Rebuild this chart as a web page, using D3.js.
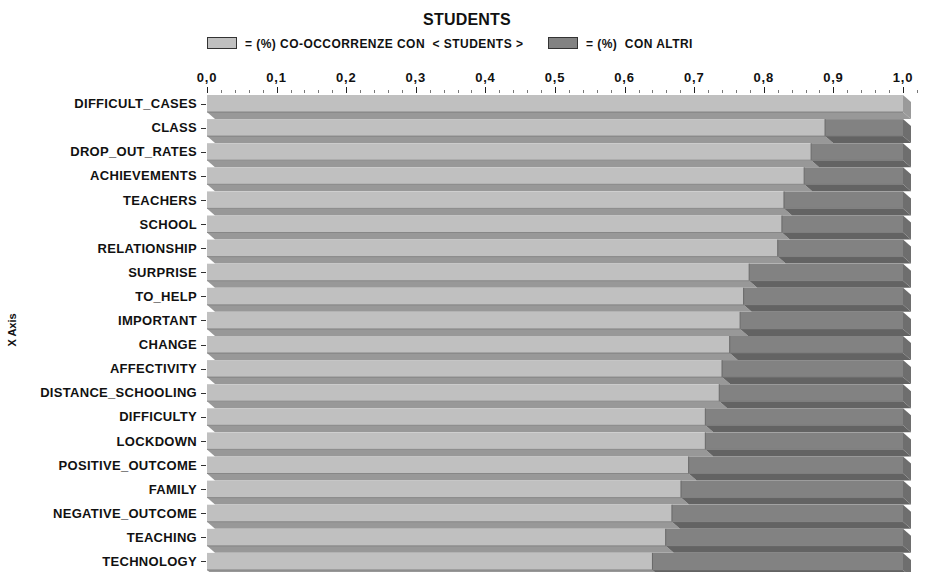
<!DOCTYPE html>
<html>
<head>
<meta charset="utf-8">
<script src="https://cdn.jsdelivr.net/npm/d3@7"></script>
<style>
  html, body { margin: 0; padding: 0; background: #fff; }
  svg { display: block; font-family: "Liberation Sans", Arial, sans-serif; font-weight: bold; }
</style>
</head>
<body>
<svg id="chart" width="930" height="572"></svg>
<script>
const chartTitle = "STUDENTS";
const legendLabels = ["= (%) CO-OCCORRENZE CON  < STUDENTS >", "= (%)  CON ALTRI"];
const yAxisTitle = "X Axis";
const categories = [
  "DIFFICULT_CASES", "CLASS", "DROP_OUT_RATES", "ACHIEVEMENTS", "TEACHERS",
  "SCHOOL", "RELATIONSHIP", "SURPRISE", "TO_HELP", "IMPORTANT",
  "CHANGE", "AFFECTIVITY", "DISTANCE_SCHOOLING", "DIFFICULTY", "LOCKDOWN",
  "POSITIVE_OUTCOME", "FAMILY", "NEGATIVE_OUTCOME", "TEACHING", "TECHNOLOGY"
];
const coOccurrence = [
  1.000, 0.888, 0.868, 0.858, 0.829,
  0.826, 0.820, 0.779, 0.771, 0.766,
  0.751, 0.740, 0.736, 0.716, 0.716,
  0.692, 0.681, 0.668, 0.659, 0.640
];
const otherShare = coOccurrence.map(v => 1 - v);
const tickValues = [0, 0.1, 0.2, 0.3, 0.4, 0.5, 0.6, 0.7, 0.8, 0.9, 1.0];
const tickLabels = ["0,0", "0,1", "0,2", "0,3", "0,4", "0,5", "0,6", "0,7", "0,8", "0,9", "1,0"];

const svg = d3.select("#chart");
const x = d3.scaleLinear().domain([0, 1]).range([207, 903]);
const y = d3.scaleBand().domain(categories).range([95, 577]).padding(0);
const frontH = 17, dx = 8, dy = 7;

const colors = {
  lightFront: "#c0c0c0", lightBottom: "#989898", lightSide: "#9a9a9a",
  darkFront: "#828282", darkBottom: "#636363", darkSide: "#6e6e6e"
};

// Title
svg.append("text").attr("x", 467).attr("y", 25).attr("text-anchor", "middle")
  .attr("font-size", 16).attr("letter-spacing", 0.2).attr("fill", "#111").text(chartTitle);

// Legend
const lg = svg.append("g");
lg.append("rect").attr("x", 207.5).attr("y", 37.5).attr("width", 29).attr("height", 11)
  .attr("fill", colors.lightFront).attr("stroke", "#333").attr("stroke-width", 1);
lg.append("text").attr("x", 245).attr("y", 47.5).attr("font-size", 12).attr("letter-spacing", 0.45)
  .attr("fill", "#111").attr("xml:space", "preserve").text(legendLabels[0]);
lg.append("rect").attr("x", 548.5).attr("y", 37.5).attr("width", 29).attr("height", 11)
  .attr("fill", colors.darkFront).attr("stroke", "#333").attr("stroke-width", 1);
lg.append("text").attr("x", 586).attr("y", 47.5).attr("font-size", 12).attr("letter-spacing", 0.45)
  .attr("fill", "#111").attr("xml:space", "preserve").text(legendLabels[1]);

// Top axis ticks
const ax = svg.append("g");
ax.selectAll("text.tick").data(tickValues).join("text")
  .attr("x", d => x(d)).attr("y", 82).attr("text-anchor", "middle")
  .attr("font-size", 13).attr("letter-spacing", 0.8).attr("fill", "#111")
  .text((d, i) => tickLabels[i]);
ax.selectAll("line.major").data(tickValues).join("line")
  .attr("x1", d => Math.round(x(d)) + 0.5).attr("x2", d => Math.round(x(d)) + 0.5)
  .attr("y1", 87).attr("y2", 93).attr("stroke", "#222").attr("stroke-width", 1);
const minor = d3.range(0, 51).map(i => i * 0.02).filter(v => Math.abs(v * 10 - Math.round(v * 10)) > 1e-6);
minor.push(1.02);
ax.selectAll("line.minor").data(minor).join("line")
  .attr("x1", d => Math.round(x(d)) + 0.5).attr("x2", d => Math.round(x(d)) + 0.5)
  .attr("y1", 90).attr("y2", 93).attr("stroke", "#777").attr("stroke-width", 1);

// Bars (3D)
const rows = svg.append("g");
categories.forEach((cat, i) => {
  const yt = y(cat), yb = yt + frontH;
  const x0 = x(0), xm = x(coOccurrence[i]), x1 = x(coOccurrence[i] + otherShare[i]);
  const g = rows.append("g");
  g.append("polygon")
    .attr("points", [[x0, yb], [xm, yb], [xm + dx, yb + dy], [x0 + dx, yb + dy]].join(" "))
    .attr("fill", colors.lightBottom);
  if (x1 - xm > 0.5) {
    g.append("polygon")
      .attr("points", [[xm, yb], [x1, yb], [x1 + dx, yb + dy], [xm + dx, yb + dy]].join(" "))
      .attr("fill", colors.darkBottom);
  }
  g.append("polygon")
    .attr("points", [[x1, yt], [x1 + dx, yt + dy], [x1 + dx, yb + dy], [x1, yb]].join(" "))
    .attr("fill", x1 - xm > 0.5 ? colors.darkSide : colors.lightSide);
  g.append("rect").attr("x", x0).attr("y", yt).attr("width", xm - x0).attr("height", frontH)
    .attr("fill", colors.lightFront);
  if (x1 - xm > 0.5) {
    g.append("rect").attr("x", xm).attr("y", yt).attr("width", x1 - xm).attr("height", frontH)
      .attr("fill", colors.darkFront);
    g.append("line").attr("x1", xm).attr("x2", xm).attr("y1", yt).attr("y2", yb)
      .attr("stroke", "#666").attr("stroke-width", 1);
  }
  g.append("line").attr("x1", x0).attr("x2", x1).attr("y1", yb).attr("y2", yb)
    .attr("stroke", "#777").attr("stroke-width", 0.8);
});

// Category labels and small ticks
const ly = svg.append("g");
ly.selectAll("text").data(categories).join("text")
  .attr("x", 197).attr("y", d => y(d) + frontH / 2 + 4.6)
  .attr("text-anchor", "end").attr("font-size", 13).attr("letter-spacing", 0.3)
  .attr("fill", "#111").text(d => d);
ly.selectAll("line").data(categories).join("line")
  .attr("x1", 201).attr("x2", 206).attr("y1", d => Math.round(y(d) + frontH / 2) + 0.5)
  .attr("y2", d => Math.round(y(d) + frontH / 2) + 0.5).attr("stroke", "#333");

// Y axis title
svg.append("text").attr("transform", "translate(16,330) rotate(-90)")
  .attr("text-anchor", "middle").attr("font-size", 11).attr("fill", "#111").text(yAxisTitle);
</script>
</body>
</html>
